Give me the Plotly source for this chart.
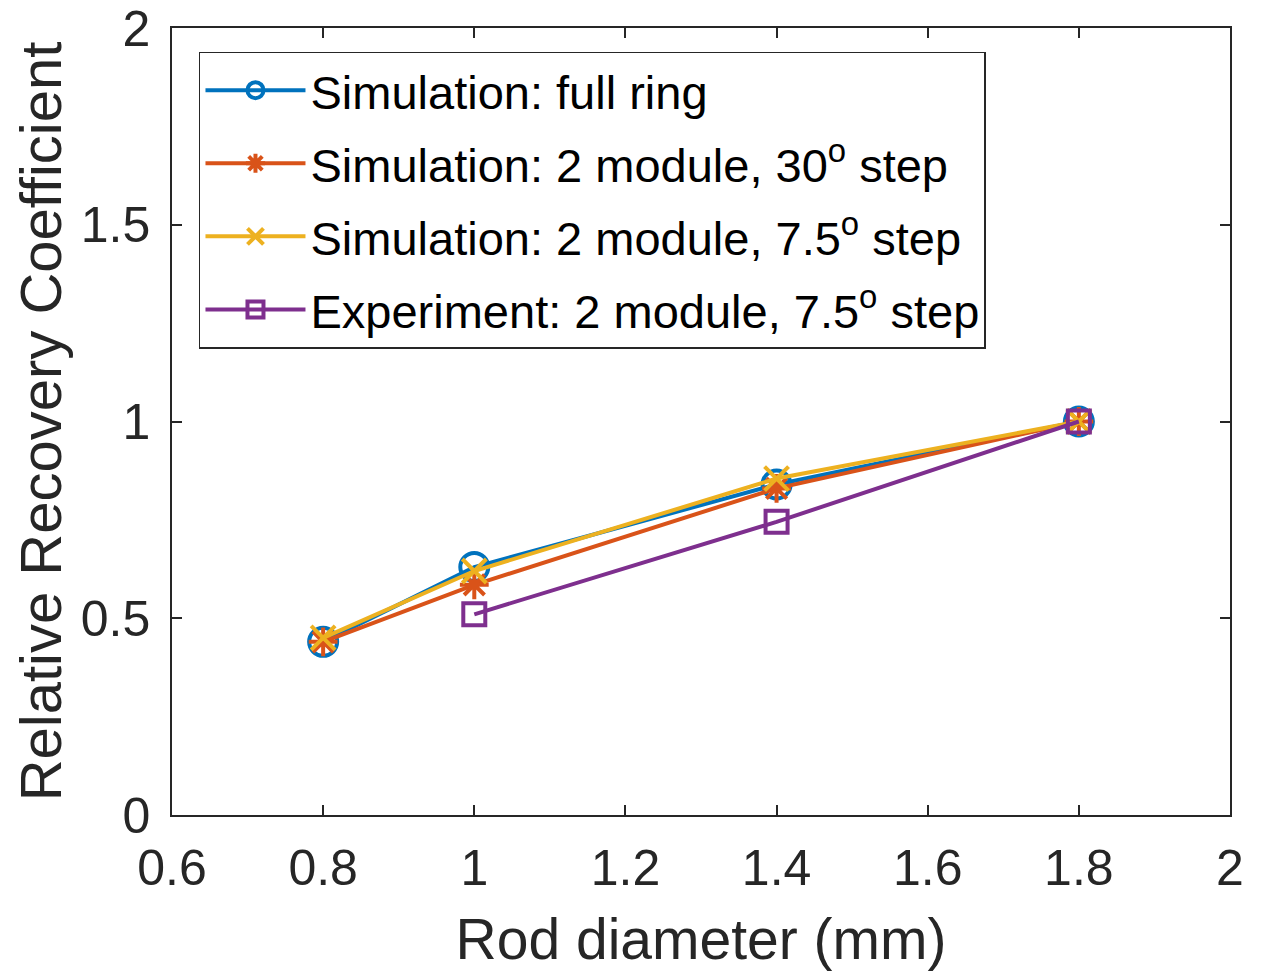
import plotly.graph_objects as go

x_vals = [0.8, 1.0, 1.4, 1.8]
x_exp = [1.0, 1.4, 1.8]
sim_full = [0.44, 0.63, 0.84, 1.0]
sim_30 = [0.44, 0.585, 0.83, 1.0]
sim_75 = [0.45, 0.62, 0.855, 1.0]
exp_75 = [0.51, 0.745, 1.0]

names = ["Simulation: full ring",
         "Simulation: 2 module, 30<sup>o</sup> step",
         "Simulation: 2 module, 7.5<sup>o</sup> step",
         "Experiment: 2 module, 7.5<sup>o</sup> step"]
colors = ["#0072BD", "#D95319", "#EDB120", "#7E2F8E"]
symbols = ["circle-open", "asterisk-open", "x-thin-open", "square-open"]
sizes = [28, 24, 24, 22]

fig = go.Figure()
series = [(x_vals, sim_full), (x_vals, sim_30), (x_vals, sim_75), (x_exp, exp_75)]
for i, ((xs, ys), n, c, s, sz) in enumerate(zip(series, names, colors, symbols, sizes)):
    fig.add_trace(go.Scatter(x=xs, y=ys, name=n, mode="lines+markers", legendgroup=f"g{i}",
                             line=dict(color=c, width=4),
                             marker=dict(symbol=s, size=sz, color=c,
                                         line=dict(color=c, width=4))))

font = "Liberation Sans, Arial, sans-serif"
axis_common = dict(showline=True, linecolor="#262626", linewidth=1.5, mirror="ticks",
                   ticks="inside", ticklen=10, tickcolor="#262626", tickwidth=1.5,
                   showgrid=False, zeroline=False, automargin=False,
                   ticklabeloverflow="allow",
                   tickfont=dict(family=font, size=50, color="#262626"))
fig.update_layout(
    width=1262, height=975,
    margin=dict(l=164, r=40, t=20, b=168),
    paper_bgcolor="white", plot_bgcolor="white",
    xaxis=dict(range=[0.6, 2], tickvals=[0.6, 0.8, 1, 1.2, 1.4, 1.6, 1.8, 2],
               ticktext=["0.6", "0.8", "1", "1.2", "1.4", "1.6", "1.8", "2"],
               ticklabelstandoff=8,
               title=dict(text="Rod diameter (mm)", font=dict(family=font, size=57, color="#262626"), standoff=24),
               **axis_common),
    yaxis=dict(range=[0, 2], tickvals=[0, 0.5, 1, 1.5, 2],
               ticktext=["0", "0.5", "1", "1.5", "2"],
               ticklabelstandoff=10,
               title=dict(text="Relative Recovery Coefficient", font=dict(family=font, size=58, color="#262626"), standoff=10),
               **axis_common),
    legend=dict(x=0.0255, y=0.97, xanchor="left", yanchor="top",
                bgcolor="white", bordercolor="#262626", borderwidth=1.5,
                font=dict(family=font, size=47, color="black"),
                itemwidth=100, tracegroupgap=9),
    showlegend=True,
)
fig.write_html("out.html")
